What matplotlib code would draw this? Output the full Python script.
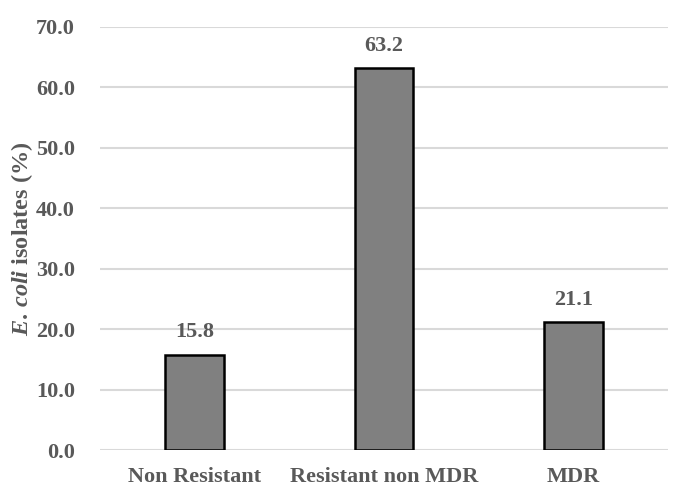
import matplotlib.pyplot as plt

categories = ['Non Resistant', 'Resistant non MDR', 'MDR']
values = [15.8, 63.2, 21.1]
yticks = [0, 10, 20, 30, 40, 50, 60, 70]

plt.rcParams['font.family'] = 'Liberation Serif'
plt.rcParams['font.weight'] = 'bold'
plt.rcParams['mathtext.fontset'] = 'custom'
plt.rcParams['mathtext.it'] = 'Liberation Serif:italic:bold'
plt.rcParams['mathtext.rm'] = 'Liberation Serif:bold'

grey = '#595959'

fig = plt.figure(figsize=(6.82, 4.87), dpi=100)
ax = fig.add_axes([100 / 682, 1 - 450 / 487, 568 / 682, 423 / 487])

x = range(len(categories))
ax.bar(x, values, width=0.31, color='#808080', edgecolor='black', linewidth=1.8, zorder=3)
for xi, v in zip(x, values):
    ax.text(xi, v + 2.0, f'{v:.1f}', ha='center', va='bottom', fontsize=16,
            fontweight='bold', color=grey)

ax.set_xlim(-0.5, 2.5)
ax.set_ylim(0, 70)
ax.set_yticks(yticks)
ax.set_yticklabels([f'{t:.1f}' for t in yticks])
ax.set_xticks(list(x))
ax.set_xticklabels(categories)
ax.tick_params(axis='y', length=0, labelsize=16, colors=grey, pad=18)
ax.tick_params(axis='x', length=0, labelsize=16, colors=grey, pad=12)
ax.yaxis.grid(True, color='#d9d9d9', linewidth=1.5, zorder=0)
for s in ax.spines.values():
    s.set_visible(False)
ax.set_ylabel(r'$\it{E.\!\ coli}$ isolates (%)', fontsize=17.5, fontweight='bold',
              color=grey, labelpad=1)

fig.savefig('out.png', dpi=100)
